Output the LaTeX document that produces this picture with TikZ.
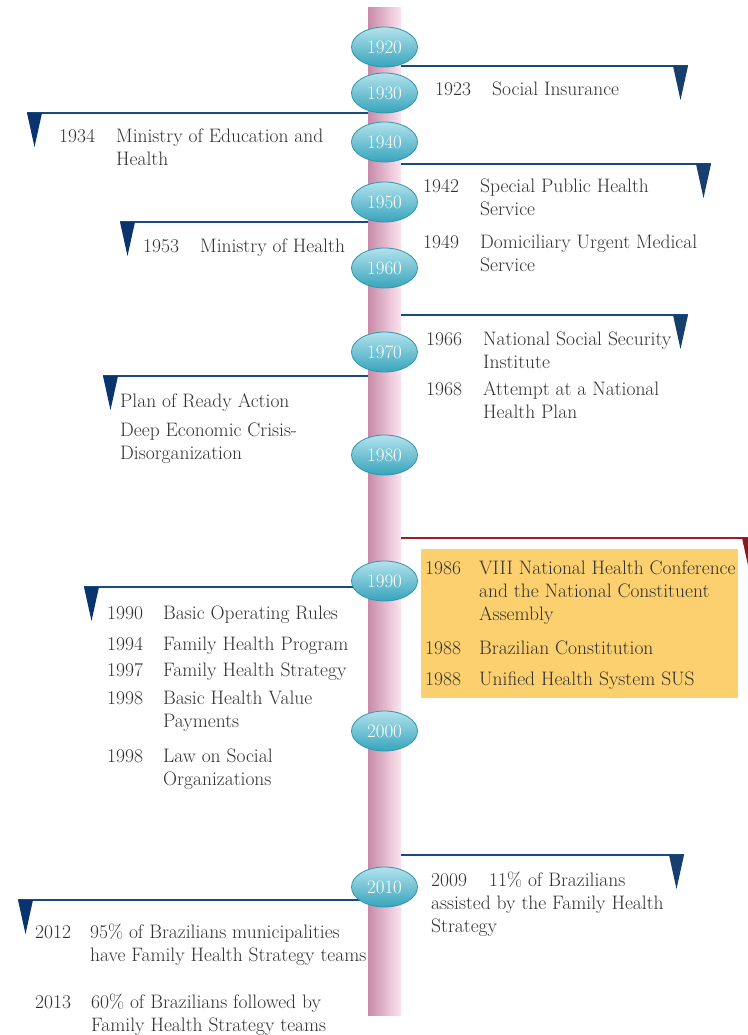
\documentclass[tikz,border=0pt]{standalone}
\usetikzlibrary{shapes.geometric}

\definecolor{flagblue}{RGB}{26,74,130}
\definecolor{flagdark}{RGB}{10,52,110}
\definecolor{flagred}{RGB}{158,28,38}
\definecolor{barpinkA}{RGB}{200,138,168}
\definecolor{barpinkB}{RGB}{253,228,240}
\definecolor{tealA}{RGB}{178,226,236}
\definecolor{tealB}{RGB}{56,164,188}
\definecolor{tealC}{RGB}{46,150,172}
\definecolor{boxorange}{RGB}{252,208,110}
\definecolor{txt}{RGB}{48,48,48}

% lines of one entry, the baseline of the node is that of its first line
\newcommand\stack[1]{\vtop{\let\\\cr\halign{##\hfil\cr#1\crcr}}}

\tikzset{
  bar/.style={rectangle, minimum width=33pt, minimum height=1007pt,
    left color=barpinkA, right color=barpinkB, inner sep=0pt},
  decade/.style={ellipse, draw=tealC, thick, top color=tealA, bottom color=tealB,
    minimum width=66pt, minimum height=40pt, inner sep=0pt, text=white,
    font=\fontsize{19}{19}\selectfont},
  entry/.style={anchor=base west, inner sep=0pt, text=txt,
    font=\fontsize{19.5}{23}\selectfont},
  flagline/.style={line width=2pt},
}

\begin{document}
\begin{tikzpicture}[x=1pt,y=-1pt]
\useasboundingbox (0,0) rectangle (747,1035);
\fill[white] (0,0) rectangle (747,1035);

% timeline bar
\node[bar] (bar) at (384.5,511.5) {};

% orange box of the eighties
\fill[boxorange] (421,549) rectangle (738,698);

% flags to the right
\foreach \y/\xe/\c in {66/688/flagblue, 164/711/flagblue, 315/688/flagblue, 538/757/flagred, 855/684/flagblue}{
  \draw[flagline, draw=\c] (bar.east |- 0,\y) -- (\xe,\y);
  \fill[\c!85!black] (\xe,\y) -- (\xe-15,\y) -- (\xe-7.5,\y+34) -- cycle;
}
% flags to the left
\foreach \y/\xe in {113/27, 222/120, 376/103, 587/84, 900/18}{
  \draw[flagline, draw=flagblue] (bar.west |- 0,\y) -- (\xe,\y);
  \fill[flagdark] (\xe,\y) -- (\xe+15,\y) -- (\xe+7.5,\y+34) -- cycle;
}

% decades
\foreach \d/\y in {1920/47, 1930/93, 1940/142, 1950/202, 1960/268, 1970/352, 1980/455, 1990/581, 2000/731, 2010/887}
  \node[decade] (d\d) at (384.5,\y) {\d};

% 1920s
\node[entry] (y1923) at (435,96) {1923};
\node[entry] (t1923) at (492,96) {Social Insurance};
% 1930s
\node[entry] (y1934) at (59,143) {1934};
\node[entry] (t1934) at (116,143) {\stack{Ministry of Education and\\Health}};
% 1940s
\node[entry] (y1942) at (423,193) {1942};
\node[entry] (t1942) at (480,193) {\stack{Special Public Health\\Service}};
\node[entry] (y1949) at (423,248) {1949};
\node[entry] (t1949) at (480,248) {\stack{Domiciliary Urgent Medical\\Service}};
% 1950s
\node[entry] (y1953) at (143,252) {1953};
\node[entry] (t1953) at (200,252) {Ministry of Health};
% 1960s
\node[entry] (y1966) at (426,345) {1966};
\node[entry] (t1966) at (483,345) {\stack{National Social Security\\Institute}};
\node[entry] (y1968) at (426,395) {1968};
\node[entry] (t1968) at (483,395) {\stack{Attempt at a National\\Health Plan}};
% 1970s
\node[entry] (tplan) at (120,407) {Plan of Ready Action};
\node[entry] (tcrisis) at (120,436) {\stack{Deep Economic Crisis-\\Disorganization}};
% 1980s
\node[entry] (y1986) at (425,574) {1986};
\node[entry] (t1986) at (479,574) {\stack{VIII National Health Conference\\and the National Constituent\\Assembly}};
\node[entry] (y1988a) at (425,654) {1988};
\node[entry] (t1988a) at (479,654) {Brazilian Constitution};
\node[entry] (y1988b) at (425,685) {1988};
\node[entry] (t1988b) at (479,685) {Unified Health System SUS};
% 1990s
\node[entry] (y1990) at (107,619) {1990};
\node[entry] (t1990) at (163,619) {Basic Operating Rules};
\node[entry] (y1994) at (107,650) {1994};
\node[entry] (t1994) at (163,650) {Family Health Program};
\node[entry] (y1997) at (107,676) {1997};
\node[entry] (t1997) at (163,676) {Family Health Strategy};
\node[entry] (y1998a) at (107,704) {1998};
\node[entry] (t1998a) at (163,704) {\stack{Basic Health Value\\Payments}};
\node[entry] (y1998b) at (107,762) {1998};
\node[entry] (t1998b) at (163,762) {\stack{Law on Social\\Organizations}};
% 2000s
\node[entry] (t2009) at (431,886) {\stack{\makebox[58pt][l]{2009}11\% of Brazilians\\assisted by the Family Health\\Strategy}};
% 2010s
\node[entry] (y2012) at (35,938) {2012};
\node[entry] (t2012) at (90,938) {\stack{95\% of Brazilians municipalities\\have Family Health Strategy teams}};
\node[entry] (y2013) at (35,1008) {2013};
\node[entry] (t2013) at (91,1008) {\stack{60\% of Brazilians followed by\\Family Health Strategy teams}};
\end{tikzpicture}
\end{document}
